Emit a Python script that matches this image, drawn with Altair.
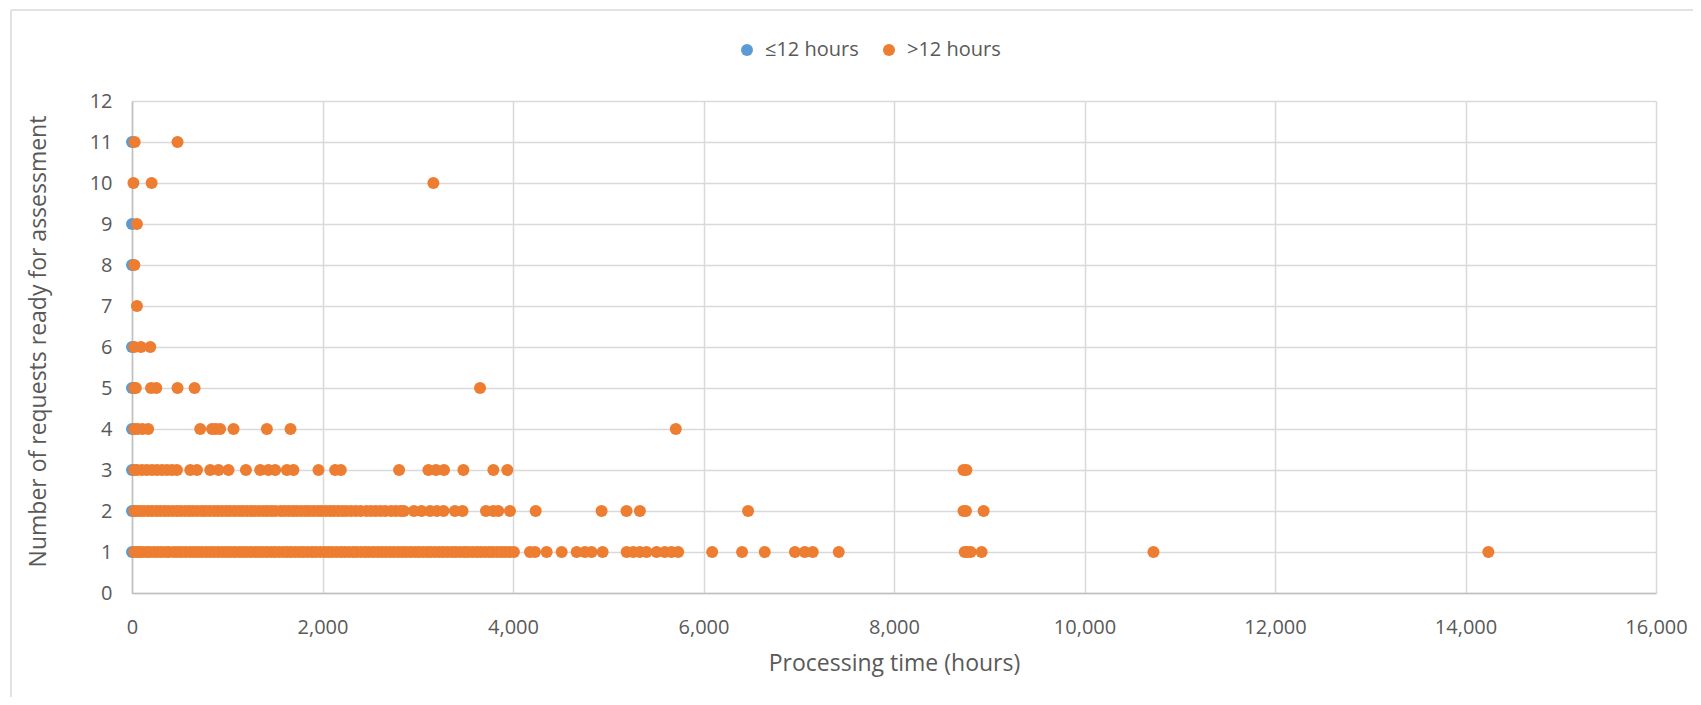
import altair as alt
import pandas as pd

# ---- data ----
blue_x = [0, 0, 0, 0, 0, 0, 0, 0, 0]
blue_y = [1, 2, 3, 4, 5, 6, 8, 9, 11]

row11_x = [28, 478]
row10_x = [15, 206, 3164]
row9_x = [52]
row8_x = [25]
row7_x = [52]
row6_x = [25, 94, 192]
row5_x = [25, 40, 200, 255, 478, 657, 3654]
row4_x = [25, 60, 110, 170, 716, 840, 880, 925, 1066, 1416, 1664, 5709]
row3_x = [25, 52, 105, 157, 210, 262, 315, 367, 420, 472, 612, 682, 821, 909,
          1013, 1196, 1346, 1433, 1503, 1626, 1695, 1958, 2133, 2192, 2804,
          3112, 3192, 3276, 3479, 3794, 3940, 8730, 8760]
row2_x = [25, 50, 85, 125, 170, 210, 255, 295, 340, 380, 425, 470, 510, 555,
          600, 640, 685, 730, 770, 815, 860, 900, 945, 990, 1030, 1075, 1120,
          1160, 1205, 1250, 1290, 1335, 1380, 1420, 1465, 1505, 1560, 1600,
          1645, 1690, 1730, 1775, 1820, 1860, 1905, 1950, 1990, 2035, 2080,
          2120, 2165, 2210, 2250, 2300, 2350, 2400, 2460, 2510, 2560, 2610,
          2660, 2720, 2770, 2820, 2855,
          2960, 3040, 3130, 3200, 3270, 3390, 3470, 3716, 3793, 3845, 3968,
          4238, 4930, 5192, 5332, 6468, 8730, 8755, 8941]
row1_x = [25, 50, 75, 110, 150, 185, 230, 270, 310, 355, 390, 440, 480, 520,
          565, 610, 650, 690, 735, 780, 820, 860, 905, 950, 990, 1030, 1075,
          1120, 1160, 1200, 1245, 1290, 1330, 1370, 1415, 1460, 1500, 1545,
          1590, 1630, 1670, 1715, 1760, 1800, 1845, 1890, 1930, 1975, 2020,
          2060, 2100, 2145, 2190, 2230, 2275, 2320, 2360, 2405, 2450, 2490,
          2535, 2580, 2620, 2665, 2710, 2750, 2795, 2840, 2880, 2925, 2970,
          3010, 3055, 3100, 3140, 3185, 3230, 3270, 3315, 3360, 3400, 3445,
          3490, 3530, 3575, 3620, 3660, 3705, 3750, 3790, 3835, 3880, 3920,
          3965, 4010,
          4178, 4231, 4353, 4511, 4668, 4755, 4825, 4941, 5193, 5262, 5332,
          5402, 5507, 5594, 5664, 5734, 6091, 6405, 6643, 6960, 7063, 7147,
          7420, 8742, 8770, 8805, 8920, 10724, 14240]

series_names = ["\u226412 hours", ">12 hours"]
series_colors = ["#5B9BD5", "#ED7D31"]
x_ticks = [0, 2000, 4000, 6000, 8000, 10000, 12000, 14000, 16000]
y_ticks = [0, 1, 2, 3, 4, 5, 6, 7, 8, 9, 10, 11, 12]

# ---- build table ----
rows = []
for xv, yv in zip(blue_x, blue_y):
    rows.append({"x": xv, "y": yv, "s": series_names[0], "o": 0})
orange_rows = {11: row11_x, 10: row10_x, 9: row9_x, 8: row8_x, 7: row7_x,
               6: row6_x, 5: row5_x, 4: row4_x, 3: row3_x, 2: row2_x, 1: row1_x}
for yv, xs in orange_rows.items():
    for xv in xs:
        rows.append({"x": xv, "y": yv, "s": series_names[1], "o": 1})
df = pd.DataFrame(rows)

FONT = "Open Sans"
TXT = "#595959"

points = alt.Chart(df).mark_circle(size=145, opacity=1).encode(
    x=alt.X("x:Q", scale=alt.Scale(domain=[0, 16000], nice=False),
            axis=alt.Axis(values=x_ticks, format=",.0f", title="Processing time (hours)",
                          grid=True, gridColor="#D9D9D9", gridWidth=1.5,
                          domainColor="#BFBFBF", domainWidth=1.5,
                          ticks=False, tickSize=0, labelPadding=24,
                          labelFontSize=20, labelColor=TXT, labelFont=FONT,
                          labelFlush=False,
                          titleFontSize=23, titleColor=TXT, titleFont=FONT,
                          titleFontWeight="normal",
                          titleX=762, titleY=70, titleBaseline="middle")),
    y=alt.Y("y:Q", scale=alt.Scale(domain=[0, 12], nice=False),
            axis=alt.Axis(values=y_ticks, format="d",
                          title="Number of requests ready for assessment",
                          grid=True, gridColor="#D9D9D9", gridWidth=1.5,
                          domainColor="#BFBFBF", domainWidth=1.5,
                          ticks=False, tickSize=0, labelPadding=20,
                          labelFontSize=20, labelColor=TXT, labelFont=FONT,
                          titleFontSize=23, titleColor=TXT, titleFont=FONT,
                          titleFontWeight="normal", titleAngle=270,
                          titleX=-94, titleY=240, titleAlign="center",
                          titleBaseline="middle")),
    color=alt.Color("s:N", scale=alt.Scale(domain=series_names, range=series_colors),
                    legend=alt.Legend(title=None, orient="none", direction="horizontal",
                                      legendX=605, legendY=-61, symbolType="circle",
                                      symbolSize=145, symbolStrokeWidth=0,
                                      labelFontSize=20, labelColor=TXT, labelFont=FONT,
                                      labelOffset=8, columnPadding=20)),
    order=alt.Order("o:Q"),
)

border_df = pd.DataFrame({"k": [0]})
top_border = alt.Chart(border_df).mark_rule(color="#D9D9D9", strokeWidth=1.5).encode(
    x=alt.value(-121), x2=alt.value(1561), y=alt.value(-91))
left_border = alt.Chart(border_df).mark_rule(color="#D9D9D9", strokeWidth=1.5).encode(
    x=alt.value(-121), y=alt.value(-91), y2=alt.value(600))

chart = alt.layer(top_border, left_border, points).properties(
    width=1524, height=492,
    autosize=alt.AutoSizeParams(type="none"),
    padding={"left": 124, "top": 93, "right": 37, "bottom": 104},
    background="white",
).configure_view(stroke=None)

chart.save("out.html", embed_options={"renderer": "svg", "actions": False})
